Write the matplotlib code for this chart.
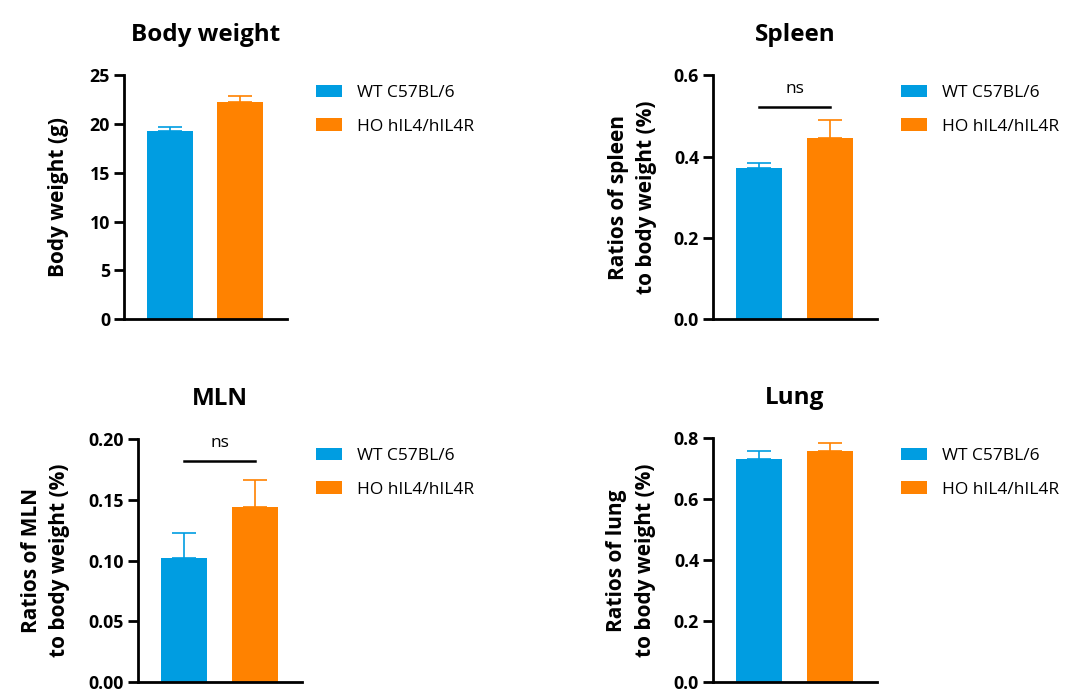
import matplotlib
matplotlib.use("Agg")
import matplotlib.pyplot as plt
import numpy as np

plt.rcParams["font.family"] = ["Open Sans", "DejaVu Sans"]

groups = ["WT C57BL/6", "HO hIL4/hIL4R"]
colors = ["#009DE1", "#FF8200"]

titles = ["Body weight", "Spleen", "MLN", "Lung"]
ylabels = ["Body weight (g)",
           "Ratios of spleen\nto body weight (%)",
           "Ratios of MLN\nto body weight (%)",
           "Ratios of lung\nto body weight (%)"]

bw_mean = [19.26, 22.26]
bw_err = [0.41, 0.59]
spleen_mean = [0.371, 0.446]
spleen_err = [0.014, 0.043]
mln_mean = [0.1018, 0.1439]
mln_err = [0.0205, 0.0219]
lung_mean = [0.731, 0.758]
lung_err = [0.028, 0.027]

means = [bw_mean, spleen_mean, mln_mean, lung_mean]
errs = [bw_err, spleen_err, mln_err, lung_err]

yticks = [[0, 5, 10, 15, 20, 25],
          [0.0, 0.2, 0.4, 0.6],
          [0.00, 0.05, 0.10, 0.15, 0.20],
          [0.0, 0.2, 0.4, 0.6, 0.8]]
tick_fmt = ["{:.0f}", "{:.1f}", "{:.2f}", "{:.1f}"]
ns_shown = [False, True, True, False]
ns_level = [None, 0.523, 0.182, None]

W, H = 1078, 699
fig = plt.figure(figsize=(W / 100, H / 100), dpi=100)

# axes boxes in pixels: left, right, top, bottom
boxes = [(124, 287, 75.3, 319),
         (713, 877, 75.3, 319),
         (138, 302, 438.7, 682.3),
         (713, 877, 438.3, 682.3)]
label_x = [-0.34, -0.34, -0.415, -0.35]
legend_pos = [(316, 85), (901, 85), (316, 448), (901, 448)]

for i in range(4):
    l, r, t, b = boxes[i]
    ax = fig.add_axes([l / W, 1 - b / H, (r - l) / W, (b - t) / H])
    x = np.arange(2)
    bars = ax.bar(x, means[i], width=0.657, color=colors, zorder=2)
    for j in range(2):
        ax.errorbar(x[j], means[i][j], yerr=[[0], [errs[i][j]]], fmt="none",
                    ecolor=colors[j], elinewidth=1.2, capsize=8.6,
                    capthick=1.2, zorder=1)
    ax.set_xlim(-0.657, 1.671)
    ax.set_ylim(yticks[i][0], yticks[i][-1])
    ax.set_yticks(yticks[i])
    ax.set_yticklabels([tick_fmt[i].format(v) for v in yticks[i]],
                       fontsize=12.8, fontweight="bold")
    ax.set_xticks([])
    for s in ["top", "right"]:
        ax.spines[s].set_visible(False)
    for s in ["left", "bottom"]:
        ax.spines[s].set_linewidth(2)
    ax.tick_params(axis="y", length=7, width=2, pad=3)
    ax.set_title(titles[i], fontsize=17.5, fontweight="bold", pad=24.5)
    ax.set_ylabel(ylabels[i], fontsize=15, fontweight="bold", linespacing=1.45)
    ax.yaxis.set_label_coords(label_x[i], 0.5)

    if ns_shown[i]:
        ax.plot([0, 1], [ns_level[i], ns_level[i]], color="black",
                lw=1.8, clip_on=False)
        ax.annotate("ns", xy=(0.5, ns_level[i]), xytext=(0, 7),
                    textcoords="offset points", ha="center", va="bottom",
                    fontsize=12.5)

    lx, ly = legend_pos[i]
    ax.legend(bars, groups, loc="upper left",
              bbox_to_anchor=(lx / W, 1 - ly / H),
              bbox_transform=fig.transFigure, frameon=False, fontsize=12.5,
              handlelength=1.5, handleheight=0.69, handletextpad=0.85,
              labelspacing=1.0, borderpad=0, borderaxespad=0)

fig.savefig("out.png", dpi=100, facecolor="white")
